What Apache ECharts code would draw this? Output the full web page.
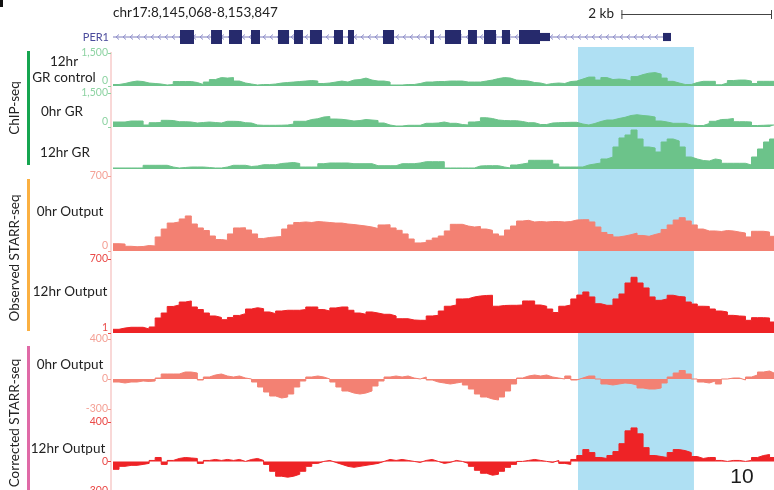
<!DOCTYPE html>
<html>
<head>
<meta charset="utf-8">
<script src="https://cdn.jsdelivr.net/npm/echarts@6/dist/echarts.min.js"></script>
<style>
  html, body { margin: 0; padding: 0; background: #ffffff; }
  #chart { width: 774px; height: 490px; }
</style>
</head>
<body>
<div id="chart"></div>
<script>
// Genomic window shown (hg19 chr17) and the bin size of the coverage tracks
const REGION_CHROM = 'chr17';
const REGION_START = 8145068;
const REGION_END = 8153847;
const BIN_BP = 80;

// ChIP-seq coverage (reads), one value per 80 bp bin
const chipControl12hr = [68,113,180,225,203,135,113,90,45,68, 203,203,203,158,68,180,293,383,360,383, 225,135,90,45,68,68,90,135,158,180, 203,225,248,225,113,135,180,225,180,270, 293,360,270,225,225,180,45,45,68,68, 113,180,180,203,203,225,225,225,180,180, 180,225,270,338,383,360,270,248,225,158, 135,68,113,135,113,203,225,315,405,405, 270,383,293,315,293,225,428,518,585,608, 540,360,212,135,68,68,158,212,212,212, 54,135,248,270,270,225,113,212,212,212];
const chipGR0hr = [220,220,264,264,264,88,189,198,295,286, 233,233,220,176,198,220,198,176,251,251, 242,189,176,88,75,75,75,79,88,132, 251,251,330,365,440,462,352,339,308,264, 286,330,308,286,176,88,44,44,75,75, 75,163,163,176,220,163,163,110,88,220, 242,409,374,308,286,277,277,242,189,189, 110,110,176,189,198,207,207,132,88,154, 242,308,308,374,427,506,541,506,484,440, 264,220,163,163,163,88,66,66,154,251, 330,339,374,233,233,220,66,75,88,88];
const chipGR12hr = [37,37,37,37,37,135,135,135,135,73, 37,55,73,73,73,55,37,37,73,135, 135,135,92,110,157,157,157,201,220,238, 201,73,73,73,194,220,220,220,220,194, 194,194,194,121,121,121,121,194,194,194, 220,267,267,267,267,37,37,37,37,37, 110,121,121,121,73,37,146,183,220,318, 318,318,318,183,73,73,73,73,146,183, 220,366,439,805,1135,1244,1427,1098,805,769, 622,988,1098,1025,805,439,366,311,293,366, 329,209,209,209,209,146,439,732,988,1098];

// Observed STARR-seq output coverage
const starrObserved0hr = [68,65,44,40,42,51,47,131,205,261, 271,299,327,252,215,191,140,107,100,159, 215,217,196,159,117,126,131,135,205,243, 266,271,266,275,271,266,261,261,252,247, 240,233,224,210,243,245,215,193,159,112, 75,79,100,121,140,187,249,249,233,224, 229,205,193,159,140,196,233,280,286,271, 275,271,275,275,271,275,289,292,292,271, 224,173,154,131,140,152,167,145,137,154, 168,201,243,289,311,280,243,205,187,187, 182,191,187,177,168,131,184,184,177,137];
const starrObserved12hr = [35,47,54,54,54,38,57,142,189,251, 265,293,303,246,222,189,161,147,126,147, 166,183,227,239,230,199,183,208,215,215, 215,222,246,246,222,208,237,246,246,215, 189,177,199,189,177,177,161,135,135,123, 120,120,161,167,208,253,265,322,324,341, 350,355,357,253,260,262,262,265,303,303, 265,253,227,194,253,265,322,359,388,341, 277,262,262,322,369,473,527,473,426,341, 309,322,357,345,341,293,274,253,251,227, 208,199,167,161,158,120,145,145,142,104];

// Input-corrected STARR-seq signal (can be negative)
const starrCorrected0hr = [-30,-40,-30,-30,-20,-25,-20,10,50,50, 50,70,70,60,-10,20,40,50,30,20, 30,10,0,-30,-80,-130,-170,-190,-180,-150, -80,-20,20,30,20,0,-30,-80,-120,-140, -150,-140,-120,-70,-20,20,30,20,30,10, 0,20,-10,-30,-40,-50,-40,-30,-60,-100, -150,-180,-200,-210,-180,-120,-50,10,30,40, 30,40,20,10,0,30,-10,10,30,30, 0,-50,-60,-50,-40,-45,-60,-90,-100,-100, -90,-40,20,60,85,50,0,-30,-40,-20, -50,0,10,10,-10,20,40,70,80,60];
const starrCorrected12hr = [-80,-50,-40,-40,-30,-20,10,40,-30,10, 30,40,35,30,-20,10,20,10,20,10, 20,0,20,30,10,-30,-100,-150,-160,-150, -130,-100,-50,-20,0,10,-10,-30,-50,-60, -50,-40,-30,-20,0,20,10,20,10,0, -10,10,20,0,-20,-10,10,0,-20,-50, -90,-120,-140,-130,-100,-60,-30,0,10,20, 10,0,-10,10,-20,-30,20,60,120,90, 40,30,60,100,180,310,340,280,140,60, 50,40,90,120,110,90,50,30,40,40, 10,0,10,10,0,10,40,60,70,40];

// Axis ranges and labelled tick values for each track
const chipRange = [0, 1500];
const observedRange0hr = [0, 700];
const observedRange12hr = [0, 700];
const correctedRange = [-300, 400];
const chipTicks = [0, 1500];
const observed0Ticks = [0, 700];
const observed12Ticks = [1, 700];
const correctedTicks = [-300, 0, 400];

// PER1 gene model (minus strand): transcript span and exons [start, end, coding]
const geneName = 'PER1';
const geneSpan = [8145068, 8152373];
const geneExons = [
  [8145958, 8146144, 1], [8146370, 8146516, 1], [8146609, 8146781, 1], [8146901, 8147020, 1],
  [8147259, 8147406, 1], [8147472, 8147591, 1], [8147684, 8147844, 1], [8148003, 8148123, 1],
  [8148189, 8148269, 1], [8148654, 8148800, 1], [8149278, 8149331, 1], [8149477, 8149690, 1],
  [8149783, 8149902, 1], [8149995, 8150155, 1], [8150234, 8150341, 1], [8150460, 8150739, 1],
  [8150739, 8150872, 0], [8152373, 8152479, 0]
];

// Highlighted candidate enhancer region and scale bar length
const highlightRegion = [8151244, 8152784];
const scaleBarBp = 2000;

const FONT = 'Lato, "Open Sans", sans-serif';
const COL_CHIP = '#6cc38a';
const COL_OBS0 = '#f38173';
const COL_OBS12 = '#ee2326';

const tracks = [
  { name: 'chip12ctl', data: chipControl12hr, color: COL_CHIP, range: chipRange, ticks: chipTicks, lift: 0, labelColor: '#8dd3a2', top: 53, height: 33 },
  { name: 'chip0', data: chipGR0hr, color: COL_CHIP, range: chipRange, ticks: chipTicks, lift: 0, labelColor: '#8dd3a2', top: 93, height: 34 },
  { name: 'chip12', data: chipGR12hr, color: COL_CHIP, range: chipRange, ticks: [], lift: null, labelColor: '#8dd3a2', top: 128, height: 41 },
  { name: 'obs0', data: starrObserved0hr, color: COL_OBS0, range: observedRange0hr, ticks: observed0Ticks, lift: 0, labelColor: '#f4a196', top: 176, height: 75 },
  { name: 'obs12', data: starrObserved12hr, color: COL_OBS12, range: observedRange12hr, ticks: observed12Ticks, lift: 1, labelColor: '#ea4a48', top: 259, height: 74 },
  { name: 'cor0', data: starrCorrected0hr, color: COL_OBS0, range: correctedRange, ticks: correctedTicks, lift: null, labelColor: '#f4a196', zeroColor: '#444444', top: 339, height: 70 },
  { name: 'cor12', data: starrCorrected12hr, color: COL_OBS12, range: correctedRange, ticks: correctedTicks, lift: null, labelColor: '#ea4a48', zeroColor: '#444444', top: 422, height: 69 }
];

function toSteps(values) {
  const pts = values.map((v, i) => [REGION_START + i * BIN_BP, v]);
  pts.push([REGION_END, values[values.length - 1]]);
  return pts;
}

const grids = [{ left: 113, right: 0, top: 30, height: 14, outerBoundsMode: 'none' }];
const xAxes = [{ type: 'value', gridIndex: 0, min: REGION_START, max: REGION_END, show: false }];
const yAxes = [{ type: 'value', gridIndex: 0, min: 0, max: 1, show: false }];
const series = [];

// Gene model: strand line with chevrons, then exon blocks
series.push({
  type: 'custom', xAxisIndex: 0, yAxisIndex: 0, silent: true,
  data: [[geneSpan[0], geneSpan[1]]],
  renderItem: function (params, api) {
    const a = api.coord([api.value(0), 0.5]);
    const b = api.coord([api.value(1), 0.5]);
    const children = [{ type: 'line', shape: { x1: a[0], y1: a[1], x2: b[0], y2: b[1] }, style: { stroke: '#7c7cbc', lineWidth: 1 } }];
    for (let x = a[0] + 3; x < b[0] - 2; x += 7) {
      children.push({ type: 'polyline', shape: { points: [[x + 3, a[1] - 2.5], [x, a[1]], [x + 3, a[1] + 2.5]] }, style: { stroke: '#9090cc', lineWidth: 1, fill: null } });
    }
    return { type: 'group', children: children };
  }
});
series.push({
  type: 'custom', xAxisIndex: 0, yAxisIndex: 0, silent: true,
  data: geneExons,
  renderItem: function (params, api) {
    const coding = api.value(2) === 1;
    const y0 = coding ? 1 : 0.79, y1 = coding ? 0 : 0.21;
    const p0 = api.coord([api.value(0), y0]);
    const p1 = api.coord([api.value(1), y1]);
    return { type: 'rect', shape: { x: p0[0], y: p0[1], width: Math.max(1, p1[0] - p0[0]), height: p1[1] - p0[1] }, style: { fill: '#262a6c' } };
  }
});

tracks.forEach((t, k) => {
  const gi = k + 1;
  grids.push({ left: 113, right: 0, top: t.top, height: t.height, outerBoundsMode: 'none' });
  xAxes.push({ type: 'value', gridIndex: gi, min: REGION_START, max: REGION_END, show: false });
  yAxes.push({
    type: 'value', gridIndex: gi, min: t.range[0], max: t.range[1], offset: 2,
    axisLine: { show: false }, splitLine: { show: false },
    axisTick: { show: t.ticks.length > 0, length: 3, customValues: t.ticks, lineStyle: { color: t.labelColor } },
    axisLabel: {
      show: t.ticks.length > 0, customValues: t.ticks, margin: 3, fontSize: 10.5, fontFamily: FONT,
      color: (v) => (t.zeroColor && v === 0) ? t.zeroColor : t.labelColor,
      formatter: (v) => {
        const s = Number(v).toLocaleString('en-US');
        return v === t.lift ? '{lo|' + s + '}' : s;
      },
      rich: { lo: { padding: [0, 0, 10, 0] } }
    }
  });
  series.push({
    type: 'line', name: t.name, xAxisIndex: gi, yAxisIndex: gi,
    data: toSteps(t.data), step: 'end', symbol: 'none', silent: true,
    lineStyle: { color: t.color, width: 1 },
    areaStyle: { color: t.color, opacity: 1, origin: 0 },
    clip: true
  });
});

const chart = echarts.init(document.getElementById('chart'), null, { renderer: 'canvas' });
chart.setOption({
  animation: false,
  backgroundColor: '#ffffff',
  grid: grids, xAxis: xAxes, yAxis: yAxes, series: series
});

// Page decorations positioned from the genomic axis
const hx0 = chart.convertToPixel({ xAxisIndex: 1 }, highlightRegion[0]);
const hx1 = chart.convertToPixel({ xAxisIndex: 1 }, highlightRegion[1]);
const barPx = chart.convertToPixel({ xAxisIndex: 1 }, REGION_START + scaleBarBp) - chart.convertToPixel({ xAxisIndex: 1 }, REGION_START);
const barEnd = 772, barStart = barEnd - barPx;
const fmt = (n) => n.toLocaleString('en-US');

const txt = (text, x, y, opts) => Object.assign({
  type: 'text', x: x, y: y,
  style: Object.assign({ text: text, fill: '#222222', font: '13.5px ' + FONT, textAlign: 'center', textVerticalAlign: 'middle' }, opts || {})
});
const vtxt = (text, x, y) => ({
  type: 'text', x: x, y: y, rotation: Math.PI / 2,
  style: { text: text, fill: '#222222', font: '13.5px ' + FONT, textAlign: 'center', textVerticalAlign: 'middle' }
});

chart.setOption({
  graphic: [
    { type: 'rect', z: -1, shape: { x: hx0, y: 47, width: hx1 - hx0, height: 443 }, style: { fill: '#afe0f3' } },
    { type: 'rect', shape: { x: 110.5, y: 52, width: 1, height: 438 }, style: { fill: '#f4b2b0' } },
    { type: 'rect', shape: { x: 0, y: 0, width: 3, height: 7 }, style: { fill: '#111111' } },
    txt(REGION_CHROM + ':' + fmt(REGION_START) + '-' + fmt(REGION_END), 113, 13, { textAlign: 'left', font: '13.5px ' + FONT }),
    txt('2 kb', 614, 14, { textAlign: 'right', font: '13.5px ' + FONT }),
    { type: 'line', shape: { x1: barStart, y1: 14.5, x2: barEnd, y2: 14.5 }, style: { stroke: '#444444', lineWidth: 1 } },
    { type: 'line', shape: { x1: barStart + 0.5, y1: 10, x2: barStart + 0.5, y2: 19 }, style: { stroke: '#444444', lineWidth: 1 } },
    { type: 'line', shape: { x1: barEnd - 0.5, y1: 10, x2: barEnd - 0.5, y2: 19 }, style: { stroke: '#444444', lineWidth: 1 } },
    txt(geneName, 109, 37, { textAlign: 'right', fill: '#4b4b9c', font: '11px ' + FONT }),
    { type: 'rect', shape: { x: 27, y: 51, width: 3, height: 114 }, style: { fill: '#16a550' } },
    { type: 'rect', shape: { x: 27, y: 179, width: 3, height: 152 }, style: { fill: '#fbb041' } },
    { type: 'rect', shape: { x: 27, y: 346, width: 3, height: 144 }, style: { fill: '#e06aa7' } },
    vtxt('ChIP-seq', 15, 108),
    vtxt('Observed STARR-seq', 15, 258),
    vtxt('Corrected STARR-seq', 15, 423),
    txt('12hr', 64, 62),
    txt('GR control', 64, 78),
    txt('0hr GR', 62, 112),
    txt('12hr GR', 65, 153),
    txt('0hr Output', 70, 212),
    txt('12hr Output', 70, 292),
    txt('0hr Output', 70, 365),
    txt('12hr Output', 68, 449),
    txt('10', 742, 477, { font: '21px "Liberation Sans", Arial, sans-serif', fill: '#1a1a1a' })
  ]
});
</script>
</body>
</html>
